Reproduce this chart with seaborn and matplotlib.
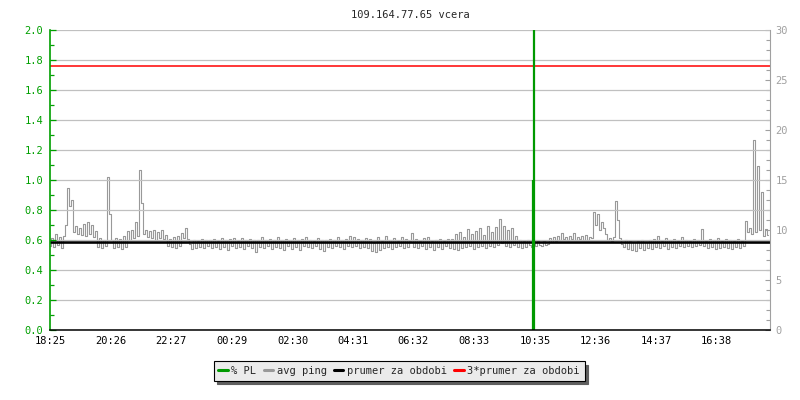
import numpy as np
import pandas as pd
import matplotlib
matplotlib.use("Agg")
import matplotlib.pyplot as plt
from matplotlib.ticker import MultipleLocator
import seaborn as sns

# chart title and x tick labels (24 h window starting at 18:25)
title = "109.164.77.65 vcera"
xtick_labels = ["18:25", "20:26", "22:27", "00:29", "02:30", "04:31",
                "06:32", "08:33", "10:35", "12:36", "14:37", "16:38"]

# avg ping [ms], one sample every 4 minutes from 18:25
ping_step_min = 4
avg_ping = [
    8.4, 9.2, 8.3, 9.6, 8.5, 9.3, 8.2, 9.4, 10.5, 14.2, 12.4, 13.0, 9.8, 10.4, 9.6, 10.2, 9.5, 10.6, 9.4, 10.8,
    9.6, 10.5, 9.3, 9.9, 8.3, 9.2, 8.2, 9.0, 8.4, 15.3, 11.6, 9.0, 8.2, 9.2, 8.3, 9.1, 8.1, 9.4, 8.3, 9.9,
    9.0, 10.0, 9.2, 10.8, 9.4, 16.0, 12.7, 9.6, 10.0, 9.3, 9.9, 9.2, 10.0, 9.0, 9.8, 9.2, 10.0, 9.1, 9.5, 8.4,
    9.1, 8.3, 9.3, 8.2, 9.4, 8.4, 9.7, 9.2, 10.2, 9.1, 8.6, 8.1, 9.0, 8.2, 8.9, 8.3, 9.1, 8.2, 9.0, 8.4,
    9.0, 8.2, 9.1, 8.3, 8.9, 8.1, 9.2, 8.3, 9.0, 8.0, 9.1, 8.4, 9.2, 8.2, 8.9, 8.3, 9.2, 8.1, 9.0, 8.4,
    9.1, 8.2, 9.0, 7.8, 9.0, 8.3, 9.3, 8.2, 9.0, 8.4, 9.1, 8.1, 9.0, 8.3, 9.3, 8.2, 9.0, 8.0, 9.1, 8.4,
    9.0, 8.1, 9.2, 8.3, 9.0, 8.0, 9.1, 8.4, 9.3, 8.3, 9.0, 8.2, 8.9, 8.4, 9.2, 8.1, 9.0, 7.9, 9.0, 8.3,
    9.1, 8.2, 9.0, 8.4, 9.3, 8.3, 9.0, 8.1, 9.1, 8.4, 9.4, 8.3, 9.3, 8.4, 9.1, 8.2, 9.0, 8.3, 9.2, 8.2,
    9.1, 7.9, 8.7, 7.8, 9.3, 8.0, 8.9, 8.2, 9.4, 8.3, 9.0, 8.1, 9.2, 8.3, 8.9, 8.4, 9.3, 8.2, 9.1, 8.3,
    8.9, 9.7, 8.3, 9.1, 8.2, 8.9, 8.4, 9.2, 8.1, 9.3, 8.3, 8.9, 8.0, 9.0, 8.3, 9.1, 8.1, 8.9, 8.4, 9.1,
    8.2, 9.1, 8.1, 9.6, 8.0, 9.8, 8.2, 9.3, 8.3, 10.1, 8.4, 9.6, 8.1, 9.9, 8.3, 10.2, 8.4, 9.5, 8.2, 10.4,
    8.4, 9.8, 8.3, 10.3, 8.5, 11.1, 8.7, 10.4, 8.4, 10.0, 8.3, 10.2, 8.5, 9.4, 8.3, 9.0, 8.2, 8.9, 8.3, 9.0,
    8.5, 8.3, 9.0, 8.4, 8.9, 8.5, 8.4, 8.9, 8.5, 8.6, 9.2, 8.8, 9.3, 8.9, 9.4, 9.0, 9.7, 9.1, 9.3, 9.0,
    9.4, 9.1, 9.7, 9.0, 9.3, 9.1, 9.4, 9.0, 9.5, 9.0, 9.3, 9.2, 11.8, 10.5, 11.6, 10.0, 10.8, 10.2, 9.6, 9.0,
    9.2, 8.9, 9.3, 12.9, 11.0, 9.2, 8.6, 8.3, 9.0, 8.1, 8.9, 8.0, 8.8, 7.9, 8.9, 8.2, 9.0, 8.0, 8.8, 8.2,
    9.0, 8.1, 9.1, 8.3, 9.4, 8.2, 8.9, 8.4, 9.2, 8.1, 9.0, 8.3, 9.1, 8.2, 8.9, 8.4, 9.3, 8.3, 9.0, 8.4,
    8.9, 8.3, 9.1, 8.4, 9.0, 8.5, 10.1, 8.4, 8.9, 8.2, 9.1, 8.3, 9.0, 8.1, 9.2, 8.2, 8.9, 8.3, 9.1, 8.2,
    9.0, 8.1, 8.9, 8.3, 9.1, 8.2, 8.9, 8.4, 10.9, 9.8, 10.2, 9.6, 19.0, 9.8, 16.4, 10.0, 13.8, 9.4, 10.1, 9.5,
]

# packet loss [%] - zero everywhere except around 10:33
pl_minutes = [965, 967]
pl_values = [1.0, 2.5]

# period average of ping [ms]
ping_mean = 8.8

GREEN = "#00a000"
GREY = "#999999"
AXGREY = "#a0a0a0"
GRID = "#c0c0c0"

sns.set_style("white")
plt.rcParams["font.family"] = ["DejaVu Sans Mono"]
plt.rcParams["font.size"] = 7.5

df = pd.DataFrame({"minute": np.arange(len(avg_ping)) * ping_step_min,
                   "ping": avg_ping})

# tick positions from the labels: minutes after 18:25
def to_min(s):
    h, m = map(int, s.split(":"))
    return ((h * 60 + m) - (18 * 60 + 25)) % 1440

xtick_pos = [to_min(s) for s in xtick_labels]

fig = plt.figure(figsize=(8, 4), dpi=100)
ax = fig.add_axes([0.0625, 0.175, 0.9, 0.75])
ax2 = ax.twinx()
ax.set_zorder(ax2.get_zorder() + 1)
ax.patch.set_visible(False)

# right axis: ping (rrd style steps)
sns.lineplot(data=df, x="minute", y="ping", ax=ax2, color=GREY,
             linewidth=0.8, estimator=None, drawstyle="steps-mid")
ax2.axhline(ping_mean, color="black", linewidth=1.9)
ax2.axhline(3 * ping_mean, color="#ff0000", linewidth=1.1)
ax2.set_ylim(0, 30)
ax2.yaxis.set_major_locator(MultipleLocator(5))
ax2.yaxis.set_minor_locator(MultipleLocator(1))
ax2.tick_params(axis="y", which="both", direction="in", colors=AXGREY,
                labelcolor=AXGREY, pad=4, width=0.8)
ax2.tick_params(axis="y", which="major", length=3.6)
ax2.tick_params(axis="y", which="minor", length=2.8)
ax2.set_ylabel("")
ax2.set_xlabel("")
for side in ["left", "top", "bottom"]:
    ax2.spines[side].set_visible(False)
ax2.spines["right"].set_color(AXGREY)
ax2.spines["right"].set_linewidth(0.8)

# left axis: packet loss
ax.vlines(pl_minutes, 0, pl_values, color="#009900", linewidth=1.6)
ax.set_xlim(0, 1440)
ax2.set_xlim(0, 1440)
ax.set_ylim(0, 2.0)
ax.yaxis.set_major_locator(MultipleLocator(0.2))
ax.yaxis.set_minor_locator(MultipleLocator(0.1))
ax.yaxis.set_major_formatter(matplotlib.ticker.FormatStrFormatter("%.1f"))
ax.tick_params(axis="y", which="both", direction="in", colors=GREEN,
               labelcolor=GREEN, pad=5, width=0.9)
ax.tick_params(axis="y", which="major", length=4.3)
ax.tick_params(axis="y", which="minor", length=2.8)
ax.set_xticks(xtick_pos)
ax.set_xticklabels(xtick_labels)
ax.tick_params(axis="x", direction="in", length=4.3, width=0.9,
               colors="black", pad=4)
ax.grid(axis="y", color=GRID, linewidth=0.9)
ax.grid(axis="x", visible=False)
ax2.grid(False)
for side in ["top", "right"]:
    ax.spines[side].set_visible(False)
ax.spines["left"].set_color(GREEN)
ax.spines["left"].set_linewidth(1.2)
ax.spines["bottom"].set_color("black")
ax.spines["bottom"].set_linewidth(1.1)

ax.set_title(title, fontsize=7.5, pad=9)

# legend
handles = [
    plt.Line2D([], [], color="#009900", linewidth=2.2),
    plt.Line2D([], [], color=GREY, linewidth=2.2),
    plt.Line2D([], [], color="black", linewidth=2.2),
    plt.Line2D([], [], color="#ff0000", linewidth=2.2),
]
labels = ["% PL", "avg ping", "prumer za obdobi", "3*prumer za obdobi"]
leg = fig.legend(handles, labels, loc="center", bbox_to_anchor=(0.499, 0.0725),
                 ncol=4, fontsize=7.5, frameon=True, fancybox=False,
                 shadow={"ox": 2.5, "oy": -2.5, "facecolor": "#606060",
                         "edgecolor": "#606060", "alpha": 1},
                 handlelength=0.9, handletextpad=0.35, columnspacing=0.7,
                 borderpad=0.45, facecolor="#ebebeb", edgecolor="black",
                 framealpha=1)
leg.get_frame().set_linewidth(0.8)

plt.savefig("out.png", dpi=100)
